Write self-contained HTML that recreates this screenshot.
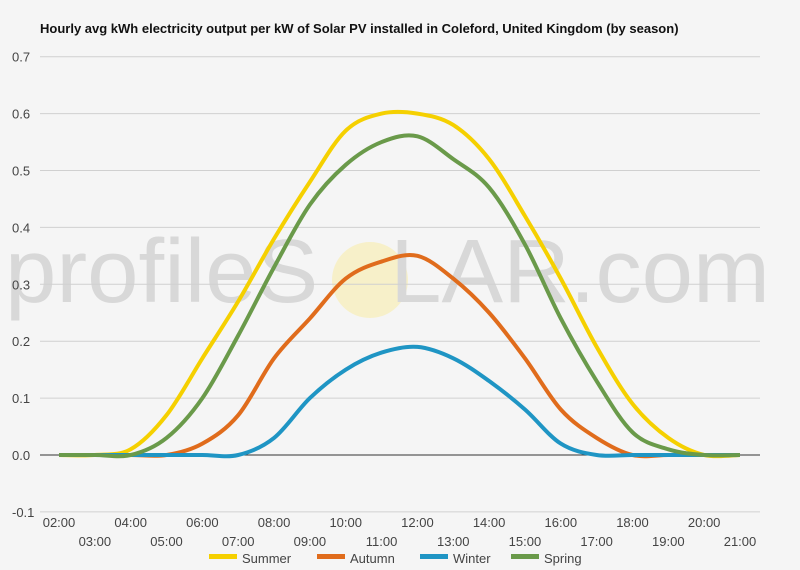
<!DOCTYPE html>
<html><head><meta charset="utf-8"><style>
body{margin:0;background:#f5f5f5;font-family:"Liberation Sans",sans-serif}
</style></head><body>
<svg id="chart" width="800" height="570" xmlns="http://www.w3.org/2000/svg" style="display:block;background:#f5f5f5">
<g>
<circle cx="370" cy="280" r="38" fill="#f7efc4" opacity="0.9"/>
<text x="5" y="302" font-size="90" fill="#d8d8d8" textLength="765" lengthAdjust="spacingAndGlyphs">profileS<tspan dx="70">LAR.com</tspan></text>
</g>
<text x="40" y="33" font-size="13" font-weight="bold" fill="#111">Hourly avg kWh electricity output per kW of Solar PV installed in Coleford, United Kingdom (by season)</text>
<g id="grid"></g>
<g id="series"></g>
<g id="legend"></g>
</svg>
<script>
const hours=[2,3,4,5,6,7,8,9,10,11,12,13,14,15,16,17,18,19,20,21];
const summer=[0,0,0.01,0.07,0.17,0.27,0.38,0.48,0.57,0.60,0.60,0.58,0.52,0.42,0.31,0.19,0.09,0.03,0,0];
const autumn=[0,0,0,0,0.02,0.07,0.17,0.24,0.31,0.34,0.35,0.31,0.25,0.17,0.08,0.03,0,0,0,0];
const winter=[0,0,0,0,0,0,0.03,0.10,0.15,0.18,0.19,0.17,0.13,0.08,0.02,0,0,0,0,0];
const spring=[0,0,0,0.03,0.10,0.21,0.33,0.44,0.51,0.55,0.56,0.52,0.47,0.37,0.24,0.13,0.04,0.01,0,0];
const yTicks=[-0.1,0,0.1,0.2,0.3,0.4,0.5,0.6,0.7];
const xLabels=["02:00","03:00","04:00","05:00","06:00","07:00","08:00","09:00","10:00","11:00","12:00","13:00","14:00","15:00","16:00","17:00","18:00","19:00","20:00","21:00"];
const NS="http://www.w3.org/2000/svg";
const X=h=>59+(h-2)*(681/19);
const Y=v=>455-v*569;
function mk(t,a,p){const e=document.createElementNS(NS,t);for(const k in a)e.setAttribute(k,a[k]);p.appendChild(e);return e;}
const grid=document.getElementById('grid');
yTicks.forEach(v=>{
  const l=mk('line',{x1:40,x2:760,y1:Y(v),y2:Y(v),stroke:v===0?'#333':'#d0d0d0','stroke-width':1},grid);
  
  
  const t=mk('text',{x:12,y:Y(v)+5,'font-size':13,fill:'#444'},grid);
  t.textContent=v.toFixed(1);
  
  
});
xLabels.forEach((s,i)=>{
  const t=mk('text',{x:X(hours[i]),y:i%2===0?527:546,'font-size':13,fill:'#444','text-anchor':'middle'},grid);
  t.textContent=s;
  
  
});
function path(vals){
  const p=vals.map((v,i)=>[X(hours[i]),Y(v)]);
  let d='M'+p[0][0]+','+p[0][1];
  for(let i=0;i<p.length-1;i++){
    const p0=p[i-1]||p[i],p1=p[i],p2=p[i+1],p3=p[i+2]||p2;
    const c1=[p1[0]+(p2[0]-p0[0])/6,p1[1]+(p2[1]-p0[1])/6];
    const c2=[p2[0]-(p3[0]-p1[0])/6,p2[1]-(p3[1]-p1[1])/6];
    d+=`C${c1[0]},${c1[1]} ${c2[0]},${c2[1]} ${p2[0]},${p2[1]}`;
  }
  return d;
}
const series=[["Summer",summer,"#f5d000"],["Autumn",autumn,"#e06c1c"],["Winter",winter,"#1f95c4"],["Spring",spring,"#6a9a4a"]];
const sg=document.getElementById('series');
series.forEach(s=>{
  const e=mk('path',{d:path(s[1]),fill:'none',stroke:s[2],'stroke-width':4,'stroke-linejoin':'round'},sg);
  
  
});
const lg=document.getElementById('legend');
const lx=[209,317,420,511];
series.forEach((s,i)=>{
  const g=mk('g',{},lg);
  
  
  mk('rect',{x:lx[i],y:554,width:28,height:5,fill:s[2]},g);
  const t=mk('text',{x:lx[i]+33,y:563,'font-size':13,fill:'#444'},g);
  t.textContent=s[0];
});
</script>
</body></html>
